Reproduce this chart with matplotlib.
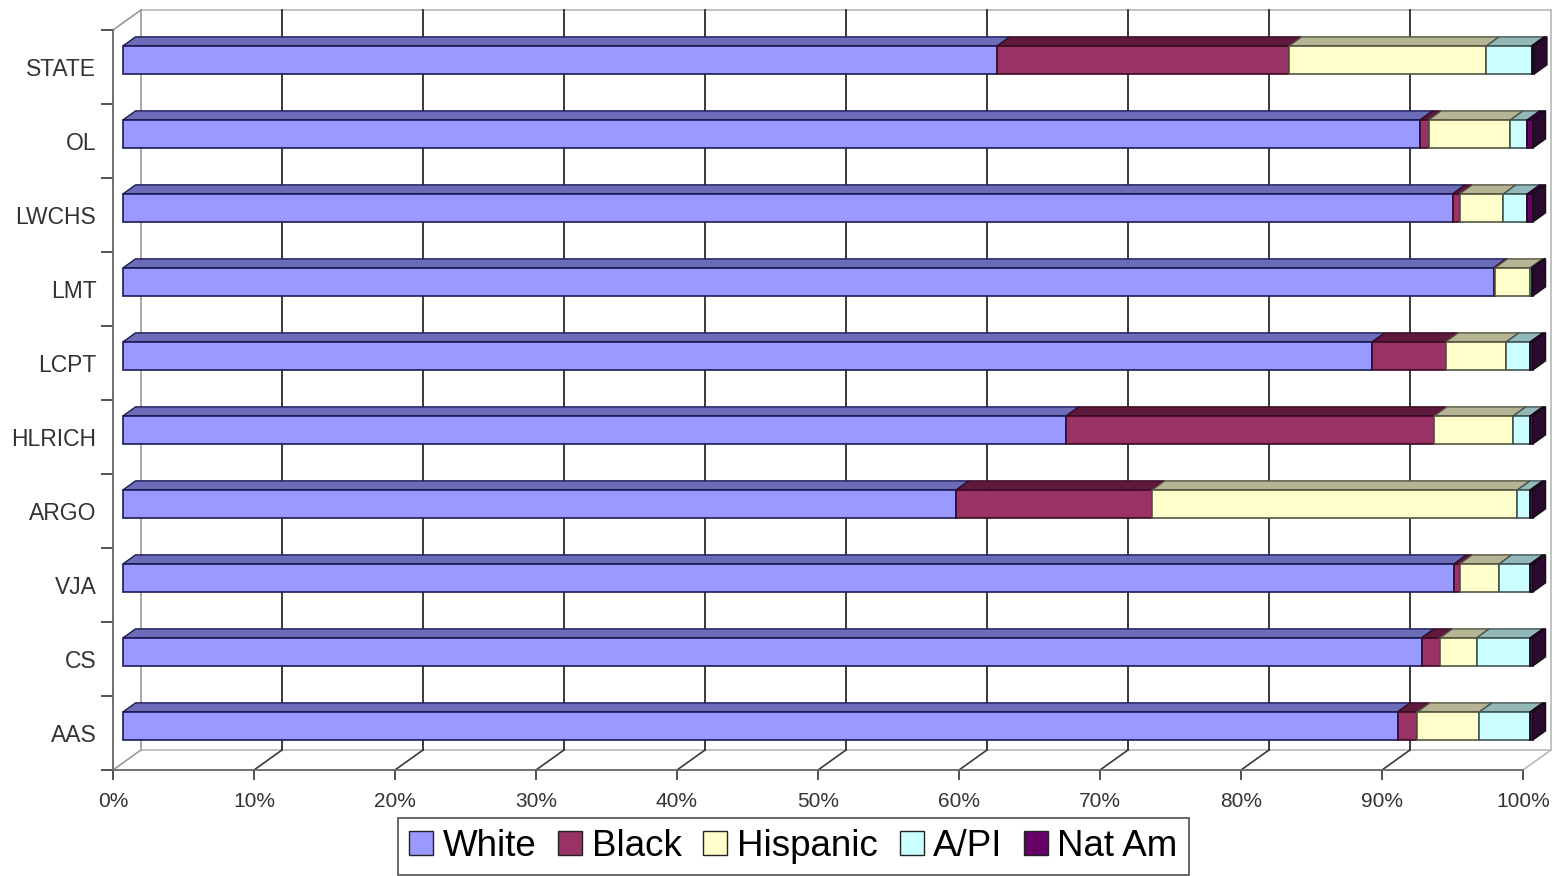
import numpy as np
import matplotlib
matplotlib.use("Agg")
import matplotlib.pyplot as plt
from matplotlib.patches import Polygon, Patch

plt.rcParams['font.family'] = ['Liberation Sans', 'DejaVu Sans']

# schools, bottom to top
schools = ['AAS', 'CS', 'VJA', 'ARGO', 'HLRICH', 'LCPT', 'LMT', 'LWCHS', 'OL', 'STATE']
white    = [90.4, 92.1, 94.4, 59.1, 66.9, 88.6, 97.2, 94.3, 92.0, 62.0]
black    = [1.4, 1.3, 0.4, 13.9, 26.1, 5.2, 0.1, 0.5, 0.6, 20.7]
hispanic = [4.4, 2.6, 2.8, 25.9, 5.6, 4.3, 2.5, 3.1, 5.8, 14.0]
api      = [3.6, 3.8, 2.2, 0.9, 1.2, 1.7, 0.1, 1.7, 1.2, 3.2]
natam    = [0.2, 0.2, 0.2, 0.2, 0.2, 0.2, 0.1, 0.4, 0.4, 0.2]

series = [('White', white), ('Black', black), ('Hispanic', hispanic),
          ('A/PI', api), ('Nat Am', natam)]
face = ['#9999FF', '#993366', '#FFFFCC', '#CCFFFF', '#660066']
top = ['#6c6cb8', '#5e1a3c', '#b5b596', '#94b7b7', '#3a003a']
edge = ['#1a1a55', '#3a0a22', '#555540', '#405555', '#200020']
side_col = '#2a0a2e'

W, H = 1562, 876
fig = plt.figure(figsize=(W / 100, H / 100), dpi=100)
ax = fig.add_axes([113 / W, (H - 770) / H, 1410 / W, 740 / H])
ax.set_xlim(0, 100)
ax.set_ylim(-0.5, 9.5)

# 3d depth of the wall (data units)
DX, DY = 28 / 14.1, 20 / 74
# bar placement in depth
OX, OY = 0.709, 0.096
BDX, BDY = 0.89, 0.122
BH = 0.378

grid_c = '#3a3a3a'
wall_c = '#b8b8b8'
y0, y1 = -0.5, 9.5
# back wall outline
ax.plot([DX, DX + 100], [y1 + DY, y1 + DY], color=wall_c, lw=1.2, clip_on=False)
ax.plot([DX + 100, DX + 100], [y0 + DY, y1 + DY], color=wall_c, lw=1.2, clip_on=False)
ax.plot([DX, DX], [y0 + DY, y1 + DY], color='#999999', lw=1.2, clip_on=False)
ax.plot([DX, DX + 100], [y0 + DY, y0 + DY], color=wall_c, lw=1.2, clip_on=False)
ax.plot([0, DX], [y1, y1 + DY], color='#999999', lw=1.2, clip_on=False)
ax.plot([100, 100 + DX], [y0, y0 + DY], color=wall_c, lw=1.2, clip_on=False)
ax.plot([0, DX], [y0, y0 + DY], color='#999999', lw=1.2, clip_on=False)
for v in range(10, 100, 10):
    ax.plot([v + DX, v + DX], [y0 + DY, y1 + DY], color=grid_c, lw=1.4, clip_on=False)
    ax.plot([v, v + DX], [y0, y0 + DY], color=grid_c, lw=1.2, clip_on=False)

# stacked bars with a little 3d top and end
ypos = np.arange(len(schools)) + OY
left = np.full(len(schools), OX)
for k, (name, vals) in enumerate(series):
    vals = np.array(vals)
    ax.barh(ypos, vals, height=BH, left=left, color=face[k], edgecolor=edge[k],
            lw=1.2, zorder=3, clip_on=False)
    for i in range(len(schools)):
        l, r = left[i], left[i] + vals[i]
        yt = ypos[i] + BH / 2
        ax.add_patch(Polygon([(l, yt), (r, yt), (r + BDX, yt + BDY), (l + BDX, yt + BDY)],
                             closed=True, fc=top[k], ec=edge[k], lw=1.0, zorder=2.9,
                             clip_on=False))
    left = left + vals

for i in range(len(schools)):
    R = left[i]
    yb, yt = ypos[i] - BH / 2, ypos[i] + BH / 2
    ax.add_patch(Polygon([(R, yb), (R, yt), (R + BDX, yt + BDY), (R + BDX, yb + BDY)],
                         closed=True, fc=side_col, ec='#111111', lw=1.0, zorder=3.1,
                         clip_on=False))

# axes
for s in ['top', 'right']:
    ax.spines[s].set_visible(False)
for s in ['left', 'bottom']:
    ax.spines[s].set_color('#666666')
    ax.spines[s].set_linewidth(1.3)
ax.set_yticks(np.arange(len(schools)))
ax.set_yticklabels(schools)
ax.set_yticks(np.arange(-0.5, 10, 1), minor=True)
ax.tick_params(axis='y', which='major', length=0, pad=12, labelsize=16.5, labelcolor='#333333')
ax.tick_params(axis='y', which='minor', length=9, width=1.3, color='#444444')
ax.set_xticks(np.arange(0, 101, 10))
ax.set_xticklabels([f'{v}%' for v in range(0, 101, 10)])
ax.tick_params(axis='x', length=7, width=1.3, color='#444444', pad=9, labelsize=15,
               labelcolor='#333333')

handles = [Patch(facecolor=face[k], edgecolor='#222222', label=series[k][0]) for k in range(5)]
leg = fig.legend(handles=handles, loc='lower center', bbox_to_anchor=(0.508, -0.02), ncol=5,
                 fontsize=26.5, frameon=True, fancybox=False, handlelength=0.65,
                 handleheight=0.65, handletextpad=0.25, columnspacing=0.6, borderpad=0.3)
leg.get_frame().set_edgecolor('#222222')
leg.get_frame().set_linewidth(1.2)

fig.savefig('out.png', dpi=100, facecolor='white')
